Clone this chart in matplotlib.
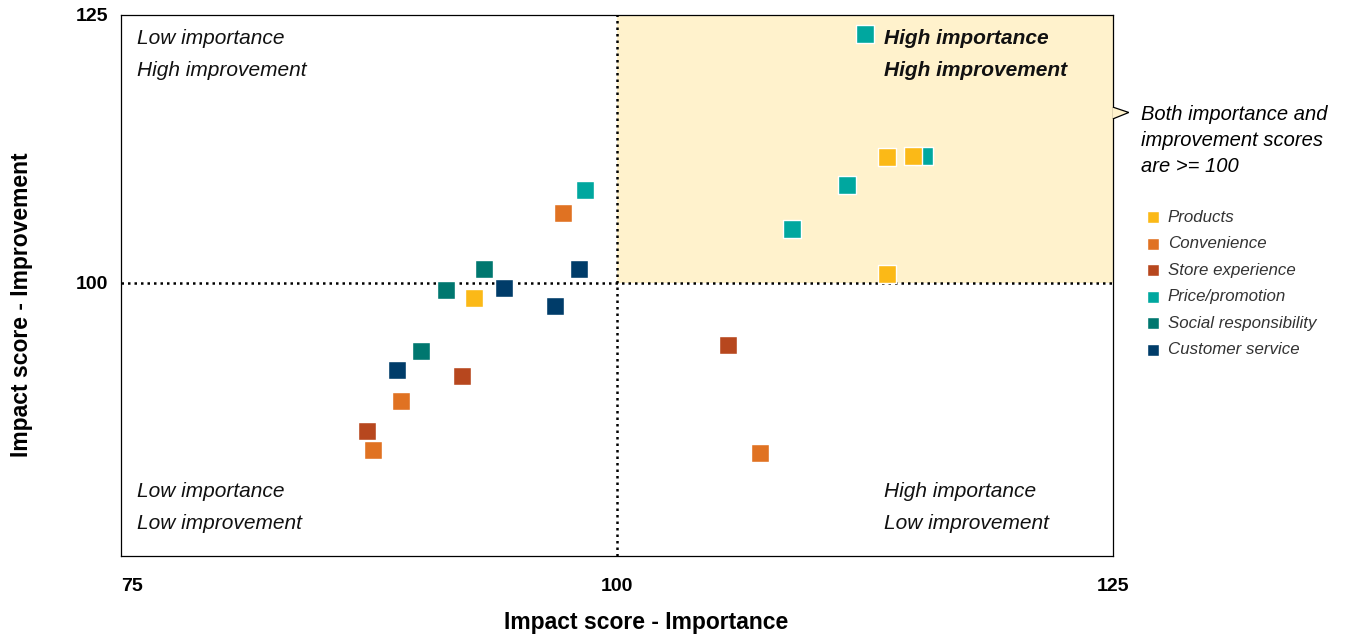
import matplotlib
matplotlib.use('Agg')
import matplotlib.pyplot as plt
from matplotlib.patches import Rectangle, Polygon

plt.rcParams['font.family'] = ['Liberation Sans', 'DejaVu Sans']

## data
categories = ['Products', 'Convenience', 'Store experience', 'Price/promotion',
              'Social responsibility', 'Customer service']
colors = ['#FBB917', '#E07222', '#B7471E', '#00A79F', '#00776F', '#003C69']

importance = {
    'Price/promotion': [98.4, 112.5, 115.5, 111.6, 108.8],
    'Products': [92.8, 113.6, 114.9, 113.6],
    'Convenience': [97.3, 89.1, 87.7, 107.2],
    'Store experience': [92.2, 87.4, 105.6],
    'Social responsibility': [93.3, 91.4, 90.1],
    'Customer service': [98.1, 94.3, 96.9, 88.9],
}
improvement = {
    'Price/promotion': [108.7, 123.2, 111.85, 109.1, 105.0],
    'Products': [98.6, 111.7, 111.85, 100.8],
    'Convenience': [106.5, 89.0, 84.4, 84.1],
    'Store experience': [91.3, 86.2, 94.2],
    'Social responsibility': [101.3, 99.3, 93.6],
    'Customer service': [101.3, 99.5, 97.8, 91.9],
}
draw_order = ['Price/promotion', 'Products', 'Convenience', 'Store experience',
              'Social responsibility', 'Customer service']

fig = plt.figure(figsize=(13.49, 6.35), dpi=100)
ax = fig.add_axes([0.0897, 0.1244, 0.7353, 0.8520])
ax.set_xlim(75, 125)
ax.set_ylim(74.5, 125)

# highlighted quadrant
ax.add_patch(Rectangle((100, 100), 25, 25, facecolor='#FFF2CC', edgecolor='none', zorder=0))
ax.axvline(100, color='black', ls=(0, (1, 1.6)), lw=1.8, zorder=1)
ax.axhline(100, color='black', ls=(0, (1, 1.6)), lw=1.8, zorder=1)

# callout pointer
ax.add_patch(Polygon([(125, 116.4), (125.8, 115.9), (125, 115.3)], closed=False,
                     facecolor='#FFF2CC', edgecolor='black', lw=0.9, clip_on=False, zorder=3))

handles = {}
for cat in draw_order:
    c = colors[categories.index(cat)]
    handles[cat] = ax.scatter(importance[cat], improvement[cat], marker='s', s=150,
                              color=c, edgecolors='white', linewidths=1.0, zorder=4)

# quadrant labels
kw = dict(fontsize=15, style='italic', va='center', color='#111111')
ax.text(75.8, 122.8, 'Low importance', **kw)
ax.text(75.8, 119.8, 'High improvement', **kw)
ax.text(75.8, 80.55, 'Low importance', **kw)
ax.text(75.8, 77.55, 'Low improvement', **kw)
ax.text(113.45, 80.55, 'High importance', **kw)
ax.text(113.45, 77.55, 'Low improvement', **kw)
ax.text(113.45, 122.8, 'High importance', fontweight='bold', **kw)
ax.text(113.45, 119.8, 'High improvement', fontweight='bold', **kw)

fig.text(0.8455, 0.834, 'Both importance and\nimprovement scores\nare >= 100',
         fontsize=14.5, style='italic', va='top', ha='left', linespacing=1.44)

leg = ax.legend([handles[c] for c in categories], categories, loc='upper left',
                bbox_to_anchor=(0.8375, 0.694), bbox_transform=fig.transFigure,
                frameon=False, fontsize=12.2, handletextpad=0.45, labelspacing=0.68,
                markerscale=0.75, handlelength=0.9)
for t in leg.get_texts():
    t.set_style('italic')
    t.set_color('#333333')

ax.set_xticks([75, 100, 125])
ax.set_yticks([100, 125])
ax.set_xticklabels(['75', '100', '125'], fontsize=14, fontweight='bold')
ax.set_yticklabels(['100', '125'], fontsize=14, fontweight='bold')
ax.get_xticklabels()[0].set_ha('left')
ax.tick_params(axis='x', length=0, pad=16)
ax.tick_params(axis='y', length=0, pad=9)
ax.set_xlabel('Impact score - Importance', fontsize=16.5, fontweight='bold')
ax.set_ylabel('Impact score - Improvement', fontsize=16.5, fontweight='bold')
ax.xaxis.set_label_coords(0.529, -0.1015)
ax.yaxis.set_label_coords(-0.089, 0.464)
for s in ax.spines.values():
    s.set_linewidth(0.9)

fig.savefig('out.png', dpi=100)
